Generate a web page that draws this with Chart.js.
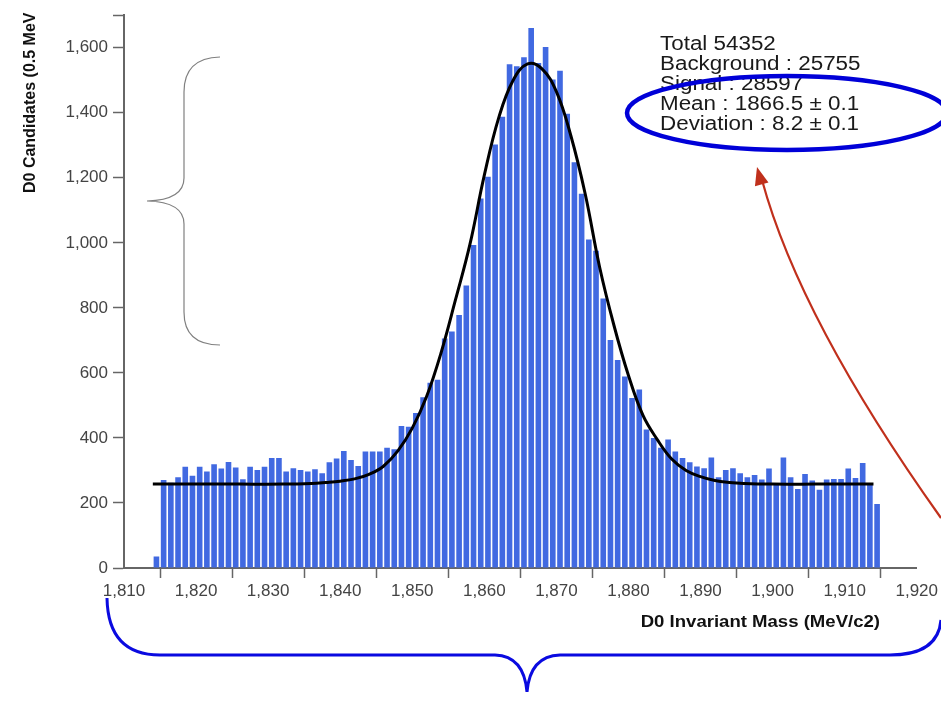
<!DOCTYPE html>
<html>
<head>
<meta charset="utf-8">
<script src="https://cdn.jsdelivr.net/npm/chart.js@4.4.0/dist/chart.umd.min.js"></script>
<style>
  html, body { margin: 0; padding: 0; background: #fff; }
  #wrap { width: 941px; height: 704px; }
</style>
</head>
<body>
<div id="wrap"><canvas id="chart"></canvas></div>
<script>
// D0 invariant mass histogram, 1 MeV bins (bin centres)
var massBins = [
  1814.5, 1815.5, 1816.5, 1817.5, 1818.5, 1819.5, 1820.5, 1821.5, 1822.5, 1823.5,
  1824.5, 1825.5, 1826.5, 1827.5, 1828.5, 1829.5, 1830.5, 1831.5, 1832.5, 1833.5,
  1834.5, 1835.5, 1836.5, 1837.5, 1838.5, 1839.5, 1840.5, 1841.5, 1842.5, 1843.5,
  1844.5, 1845.5, 1846.5, 1847.5, 1848.5, 1849.5, 1850.5, 1851.5, 1852.5, 1853.5,
  1854.5, 1855.5, 1856.5, 1857.5, 1858.5, 1859.5, 1860.5, 1861.5, 1862.5, 1863.5,
  1864.5, 1865.5, 1866.5, 1867.5, 1868.5, 1869.5, 1870.5, 1871.5, 1872.5, 1873.5,
  1874.5, 1875.5, 1876.5, 1877.5, 1878.5, 1879.5, 1880.5, 1881.5, 1882.5, 1883.5,
  1884.5, 1885.5, 1886.5, 1887.5, 1888.5, 1889.5, 1890.5, 1891.5, 1892.5, 1893.5,
  1894.5, 1895.5, 1896.5, 1897.5, 1898.5, 1899.5, 1900.5, 1901.5, 1902.5, 1903.5,
  1904.5, 1905.5, 1906.5, 1907.5, 1908.5, 1909.5, 1910.5, 1911.5, 1912.5, 1913.5,
  1914.5
];
var candidates = [
  35, 271, 262, 279, 311, 284, 311, 297, 319, 306,
  326, 309, 273, 311, 301, 311, 338, 338, 297, 307,
  301, 297, 304, 291, 325, 337, 360, 332, 314, 358,
  358, 358, 370, 365, 437, 434, 477, 525, 570, 579,
  706, 727, 778, 869, 993, 1136, 1203, 1302, 1388, 1549,
  1543, 1571, 1661, 1553, 1602, 1502, 1529, 1397, 1248, 1151,
  1010, 976, 829, 701, 640, 589, 523, 549, 426, 400,
  370, 395, 358, 338, 325, 312, 307, 340, 279, 301,
  307, 291, 279, 286, 272, 306, 260, 340, 279, 243,
  289, 269, 241, 272, 274, 274, 306, 277, 323, 260,
  197
];

// fitted curve
var fitMass = [1814, 1820, 1826, 1832, 1836, 1838, 1840, 1842, 1844, 1846,
  1848, 1850, 1852, 1854, 1856, 1858, 1860, 1862, 1864, 1866,
  1868, 1870, 1872, 1874, 1876, 1878, 1880, 1882, 1884, 1886,
  1888, 1890, 1892, 1894, 1896, 1900, 1906, 1914];
var fitCounts = [258, 258, 258, 258, 260, 263, 267, 274, 288, 313,
  360, 430, 528, 662, 825, 995, 1208, 1385, 1500, 1550,
  1535, 1465, 1330, 1150, 925, 745, 592, 470, 395, 335,
  300, 281, 269, 263, 260, 258, 258, 258];

var xTicks = [1810, 1820, 1830, 1840, 1850, 1860, 1870, 1880, 1890, 1900, 1910, 1920];
var yTicks = [0, 200, 400, 600, 800, 1000, 1200, 1400, 1600, 1700];

var xTitle = "D0 Invariant Mass (MeV/c2)";
var yTitle = "D0 Candidates (0.5 MeV";
var statLines = ["Total 54352", "Background : 25755", "Signal : 28597",
  "Mean : 1866.5 \u00b1 0.1", "Deviation : 8.2 \u00b1 0.1"];

var FONT = '"Liberation Sans", Arial, Helvetica, sans-serif';

// hand drawn notes on top of the plot
var overlay = {
  id: 'overlay',
  afterDraw: function (chart) {
    var ctx = chart.ctx;
    ctx.save();

    // y title
    ctx.fillStyle = '#111';
    ctx.font = 'bold 16px ' + FONT;
    ctx.save();
    ctx.translate(35, 193);
    ctx.rotate(-Math.PI / 2);
    ctx.textAlign = 'left';
    ctx.fillText(yTitle, 0, 0);
    ctx.restore();

    // x title
    ctx.save();
    ctx.translate(880, 627);
    ctx.scale(1.16, 1);
    ctx.textAlign = 'right';
    ctx.fillText(xTitle, 0, 0);
    ctx.restore();

    // stats text
    ctx.save();
    ctx.fillStyle = '#1a1a1a';
    ctx.font = '20px ' + FONT;
    ctx.textAlign = 'left';
    for (var i = 0; i < statLines.length; i++) {
      ctx.save();
      ctx.translate(660, 50 + i * 20);
      ctx.scale(1.12, 1);
      ctx.fillText(statLines[i], 0, 0);
      ctx.restore();
    }
    ctx.restore();

    // blue ellipse round mean / deviation
    ctx.strokeStyle = '#0000d8';
    ctx.lineWidth = 4.5;
    ctx.beginPath();
    ctx.ellipse(787, 113, 160, 37, 0, 0, Math.PI * 2);
    ctx.stroke();

    // red arrow
    ctx.strokeStyle = '#c0301c';
    ctx.fillStyle = '#c0301c';
    ctx.lineWidth = 2.2;
    ctx.beginPath();
    ctx.moveTo(941, 518);
    ctx.quadraticCurveTo(800, 320, 762, 180);
    ctx.stroke();
    var ang = Math.atan2(180 - 320, 762 - 800);
    var tx = 757, ty = 167;
    ctx.beginPath();
    ctx.moveTo(tx, ty);
    ctx.lineTo(tx - 18 * Math.cos(ang) + 7 * Math.sin(ang), ty - 18 * Math.sin(ang) - 7 * Math.cos(ang));
    ctx.lineTo(tx - 18 * Math.cos(ang) - 7 * Math.sin(ang), ty - 18 * Math.sin(ang) + 7 * Math.cos(ang));
    ctx.closePath();
    ctx.fill();

    // grey brace on the left
    ctx.strokeStyle = '#808080';
    ctx.lineWidth = 1.2;
    ctx.beginPath();
    ctx.moveTo(220, 57);
    ctx.quadraticCurveTo(184, 58, 184, 92);
    ctx.lineTo(184, 178);
    ctx.quadraticCurveTo(184, 200, 147, 201);
    ctx.quadraticCurveTo(184, 202, 184, 224);
    ctx.lineTo(184, 312);
    ctx.quadraticCurveTo(184, 345, 220, 345);
    ctx.stroke();

    // blue brace under the axis
    ctx.strokeStyle = '#0a0ae0';
    ctx.lineWidth = 3;
    ctx.beginPath();
    ctx.moveTo(107, 598);
    ctx.quadraticCurveTo(108, 655, 160, 655);
    ctx.lineTo(495, 655);
    ctx.quadraticCurveTo(524, 656, 527, 692);
    ctx.quadraticCurveTo(530, 656, 560, 655);
    ctx.lineTo(890, 655);
    ctx.quadraticCurveTo(938, 655, 941, 620);
    ctx.stroke();

    ctx.restore();
  }
};

var ctx = document.getElementById('chart').getContext('2d');
new Chart(ctx, {
  type: 'bar',
  data: {
    datasets: [
      {
        type: 'line',
        label: 'Fit',
        data: fitMass.map(function (m, i) { return { x: m, y: fitCounts[i] }; }),
        borderColor: '#000',
        borderWidth: 3,
        pointRadius: 0,
        tension: 0.4,
        fill: false,
        order: 0
      },
      {
        type: 'bar',
        label: 'D0 candidates',
        data: massBins.map(function (m, i) { return { x: m, y: candidates[i] }; }),
        backgroundColor: '#4169e1',
        borderWidth: 0,
        categoryPercentage: 1.0,
        barPercentage: 0.78,
        order: 1
      }
    ]
  },
  options: {
    responsive: true,
    maintainAspectRatio: false,
    animation: false,
    devicePixelRatio: 1,
    layout: { padding: { top: 11, right: 22, bottom: 0, left: 0 } },
    plugins: {
      legend: { display: false },
      tooltip: { enabled: false }
    },
    scales: {
      x: {
        type: 'linear',
        min: 1810,
        max: 1920,
        offset: false,
        afterBuildTicks: function (s) { s.ticks = xTicks.map(function (v) { return { value: v }; }); },
        afterFit: function (s) { s.height = 136; },
        grid: { drawOnChartArea: false, drawTicks: true, tickLength: 10, tickColor: '#666', tickWidth: 1.5 },
        border: { display: true, color: '#666', width: 2 },
        ticks: {
          font: { family: FONT, size: 17 },
          color: '#444',
          padding: 3,
          maxRotation: 0,
          autoSkip: false,
          callback: function (v) { return v.toLocaleString('en-US'); }
        }
      },
      y: {
        min: 0,
        max: 1700,
        afterBuildTicks: function (s) { s.ticks = yTicks.map(function (v) { return { value: v }; }); },
        afterFit: function (s) { s.width = 124; },
        grid: { drawOnChartArea: false, drawTicks: true, tickLength: 11, tickColor: '#666', tickWidth: 1.5 },
        border: { display: true, color: '#666', width: 2 },
        ticks: {
          font: { family: FONT, size: 17 },
          color: '#444',
          padding: 5,
          autoSkip: false,
          callback: function (v) { return v === 1700 ? '' : v.toLocaleString('en-US'); }
        }
      }
    }
  },
  plugins: [overlay]
});
</script>
</body>
</html>
